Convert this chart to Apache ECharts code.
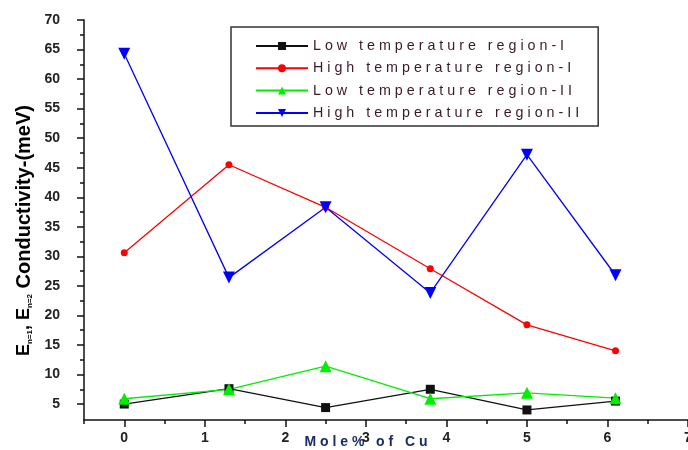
<!DOCTYPE html>
<html>
<head>
<meta charset="utf-8">
<script src="https://cdn.jsdelivr.net/npm/echarts@6/dist/echarts.min.js"></script>
<style>
  html, body { margin: 0; padding: 0; background: #fff; }
  #chart { width: 688px; height: 450px; }
</style>
</head>
<body>
<div id="chart"></div>
<script>
// Mole % of Cu
const xValues = [0, 1.3, 2.5, 3.8, 5, 6.1]
const lowTempI = [5.0, 7.6, 4.4, 7.5, 4.0, 5.5]
const highTempI = [30.6, 45.5, 38.3, 27.9, 18.4, 14.0]
const lowTempII = [5.9, 7.5, 11.4, 5.9, 6.9, 6.0]
const highTempII = [64.3, 26.4, 38.3, 23.8, 47.2, 26.8]

const seriesNames = [
  'Low temperature region-I',
  'High temperature region-I',
  'Low temperature region-II',
  'High temperature region-II'
]

const xTicks = [0, 1, 2, 3, 4, 5, 6, 7]
const xMinorTicks = [-0.5, 0.5, 1.5, 2.5, 3.5, 4.5, 5.5, 6.5]
const yTicks = [5, 10, 15, 20, 25, 30, 35, 40, 45, 50, 55, 60, 65, 70]
const yMinorTicks = [7.5, 12.5, 17.5, 22.5, 27.5, 32.5, 37.5, 42.5, 47.5, 52.5, 57.5, 62.5, 67.5]

const spaced = s => s.split('').join(' ')
const toPairs = arr => arr.map((v, i) => [xValues[i], v])

const chart = echarts.init(document.getElementById('chart'))

const axisLine = { show: true, onZero: false, lineStyle: { color: '#111', width: 1.5 } }
const tickStyle = { color: '#111', width: 1.5 }

const option = {
  backgroundColor: '#fff',
  animation: false,
  grid: { left: 84, right: 0, top: 20, bottom: 30, outerBoundsMode: 'none' },
  legend: {
    orient: 'vertical',
    left: 231,
    top: 27,
    padding: [12, 19, 6, 24],
    itemWidth: 52,
    itemHeight: 10,
    itemGap: 8.3,
    borderColor: '#333',
    borderWidth: 1.5,
    formatter: name => spaced(name),
    textStyle: { fontFamily: 'Liberation Sans', fontSize: 14.3, lineHeight: 14, color: '#3a1a2a' }
  },
  xAxis: [{
    type: 'value',
    min: -0.5,
    max: 7,
    splitLine: { show: false },
    axisLine: axisLine,
    axisTick: { customValues: xTicks, length: 7, lineStyle: tickStyle },
    axisLabel: {
      customValues: xTicks,
      margin: 11,
      fontFamily: 'Liberation Sans',
      fontSize: 14,
      fontWeight: 'bold',
      color: '#222'
    },
    name: spaced('Mole% of Cu'),
    nameLocation: 'middle',
    nameGap: 15,
    nameMoveOverlap: false,
    nameTextStyle: {
      fontFamily: 'Liberation Sans',
      fontSize: 14,
      fontWeight: 'bold',
      color: '#1c2a66',
      padding: [0, 40, 0, 0]
    }
  }, {
    type: 'value',
    min: -0.5,
    max: 7,
    position: 'bottom',
    splitLine: { show: false },
    axisLine: { show: false },
    axisTick: { customValues: xMinorTicks, length: 4, lineStyle: tickStyle },
    axisLabel: { show: false }
  }],
  yAxis: [{
    type: 'value',
    min: 2.3,
    max: 70,
    splitLine: { show: false },
    axisLine: axisLine,
    axisTick: { customValues: yTicks, length: 7, lineStyle: tickStyle },
    axisLabel: {
      customValues: yTicks,
      margin: 24,
      fontFamily: 'Liberation Sans',
      fontSize: 14,
      fontWeight: 'bold',
      color: '#222'
    },
    name: '{e|E}{sub|n=1}{e|, E}{sub|n=2}{c| Conductivity-(meV)}',
    nameLocation: 'middle',
    nameRotate: 90,
    nameGap: 50,
    nameMoveOverlap: false,
    nameTextStyle: {
      padding: [0, 21, 0, 0],
      rich: {
        e: { fontFamily: 'Liberation Sans', fontSize: 18, fontWeight: 'bold', color: '#000' },
        c: { fontFamily: 'Liberation Sans', fontSize: 20, fontWeight: 'bold', color: '#000' },
        sub: { fontFamily: 'Liberation Sans', fontSize: 8, fontWeight: 'bold', color: '#000', padding: [12, 0, 0, 0] }
      }
    }
  }, {
    type: 'value',
    min: 2.3,
    max: 70,
    position: 'left',
    splitLine: { show: false },
    axisLine: { show: false, onZero: false },
    axisTick: { customValues: yMinorTicks, length: 4, lineStyle: tickStyle },
    axisLabel: { show: false }
  }],
  series: [{
    name: seriesNames[0],
    type: 'line',
    data: toPairs(lowTempI),
    symbol: 'rect',
    symbolSize: 9,
    color: '#111',
    lineStyle: { width: 1.3 }
  }, {
    name: seriesNames[1],
    type: 'line',
    data: toPairs(highTempI),
    symbol: 'circle',
    symbolSize: 7,
    color: '#ff0000',
    lineStyle: { width: 1.3 }
  }, {
    name: seriesNames[2],
    type: 'line',
    data: toPairs(lowTempII),
    symbol: 'triangle',
    symbolSize: 12,
    color: '#00ee00',
    lineStyle: { width: 1.3 }
  }, {
    name: seriesNames[3],
    type: 'line',
    data: toPairs(highTempII),
    symbol: 'triangle',
    symbolRotate: 180,
    symbolSize: 12,
    color: '#0000ff',
    lineStyle: { width: 1.3 }
  }]
}

chart.setOption(option)
</script>
</body>
</html>
